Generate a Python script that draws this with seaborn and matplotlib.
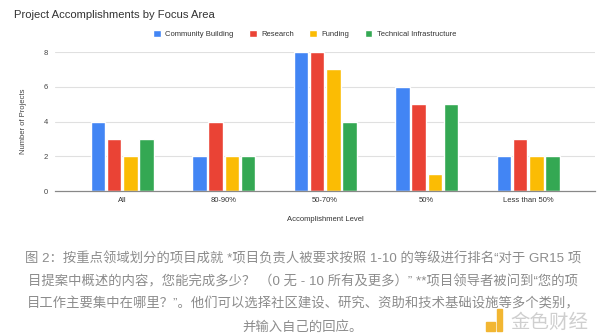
import matplotlib
matplotlib.use("Agg")
import matplotlib.pyplot as plt
import matplotlib.patches as mpatches
import seaborn as sns
import pandas as pd

categories = ["All", "80-90%", "50-70%", "50%", "Less than 50%"]
series_names = ["Community Building", "Research", "Funding", "Technical Infrastructure"]
community = [4, 2, 8, 6, 2]
research = [3, 4, 8, 5, 3]
funding = [2, 2, 7, 1, 2]
technical = [3, 2, 4, 5, 2]
yticks = [0, 2, 4, 6, 8]
colors = ["#4285F4", "#EA4335", "#FBBC04", "#34A853"]

caption_lines = [
    "图 2：按重点领域划分的项目成就 *项目负责人被要求按照 1-10 的等级进行排名“对于 GR15 项",
    "目提案中概述的内容，您能完成多少？ （0 无 - 10 所有及更多）” **项目领导者被问到“您的项",
    "目工作主要集中在哪里？”。他们可以选择社区建设、研究、资助和技术基础设施等多个类别，",
    "并输入自己的回应。",
]

rows = []
for name, vals in zip(series_names, [community, research, funding, technical]):
    for c, v in zip(categories, vals):
        rows.append({"Level": c, "Area": name, "Count": v})
df = pd.DataFrame(rows)

sns.set_theme(style="white")
plt.rcParams["font.family"] = ["Liberation Sans", "Noto Sans CJK SC", "DejaVu Sans"]

fig = plt.figure(figsize=(6, 3.36), dpi=100)
ax = fig.add_axes([0.092, 0.4315, 0.900, 0.4137])

sns.barplot(data=df, x="Level", y="Count", hue="Area", order=categories,
            hue_order=series_names, palette=colors, width=0.64, gap=0.1,
            saturation=1, ax=ax, legend=True, zorder=3)

ax.set_xlim(-0.66, 4.66)
ax.set_ylim(0, 8)
ax.set_yticks(yticks)
ax.set_yticklabels([str(t) for t in yticks], fontsize=5.5, color="#444444")
ax.tick_params(axis="x", labelsize=5.5, labelcolor="#333333", length=0, pad=4)
ax.tick_params(axis="y", length=0, pad=5)
for t in yticks[1:]:
    ax.axhline(t, color="#e0e0e0", lw=0.8, zorder=0)
for s in ["top", "right", "left"]:
    ax.spines[s].set_visible(False)
ax.spines["bottom"].set_color("#888888")
ax.spines["bottom"].set_linewidth(0.9)
ax.spines["bottom"].set_zorder(4)

ax.set_xlabel("Accomplishment Level", fontsize=5.5, color="#333333", labelpad=9)
ax.set_ylabel("Number of Projects", fontsize=5.5, color="#444444", labelpad=12)

leg = ax.legend(loc="center", ncol=4, frameon=False, fontsize=5.5, handlelength=1.0,
                handleheight=1.0, handletextpad=0.6, columnspacing=2.0, borderaxespad=0)
leg.set_bbox_to_anchor((0.508, 1 - 34 / 336), transform=fig.transFigure)
for txt in leg.get_texts():
    txt.set_color("#333333")

fig.text(14 / 600, 1 - 15 / 336, "Project Accomplishments by Focus Area",
         fontsize=8.1, color="#333333", ha="left", va="center")

ys = [259, 282, 304, 327]
for line, y in zip(caption_lines, ys):
    fig.text(0.505, 1 - y / 336, line, fontsize=9.6, color="#8c8c8c", ha="center", va="center",
             family=["Liberation Sans", "Noto Sans CJK SC", "DejaVu Sans"])

# watermark logo
gold = "#f2b632"
fig.patches.append(mpatches.Rectangle((486 / 600, 1 - 331 / 336), 9 / 600, 9 / 336,
                                      transform=fig.transFigure, color=gold, zorder=5))
fig.patches.append(mpatches.Rectangle((497 / 600, 1 - 331 / 336), 5 / 600, 22 / 336,
                                      transform=fig.transFigure, color=gold, zorder=5))
fig.text(0.915, 1 - 322 / 336, "金色财经", fontsize=14, color="#cfcfcf",
         ha="center", va="center", family=["Noto Sans CJK SC", "DejaVu Sans"])

fig.savefig("out.png", dpi=100, facecolor="white")
